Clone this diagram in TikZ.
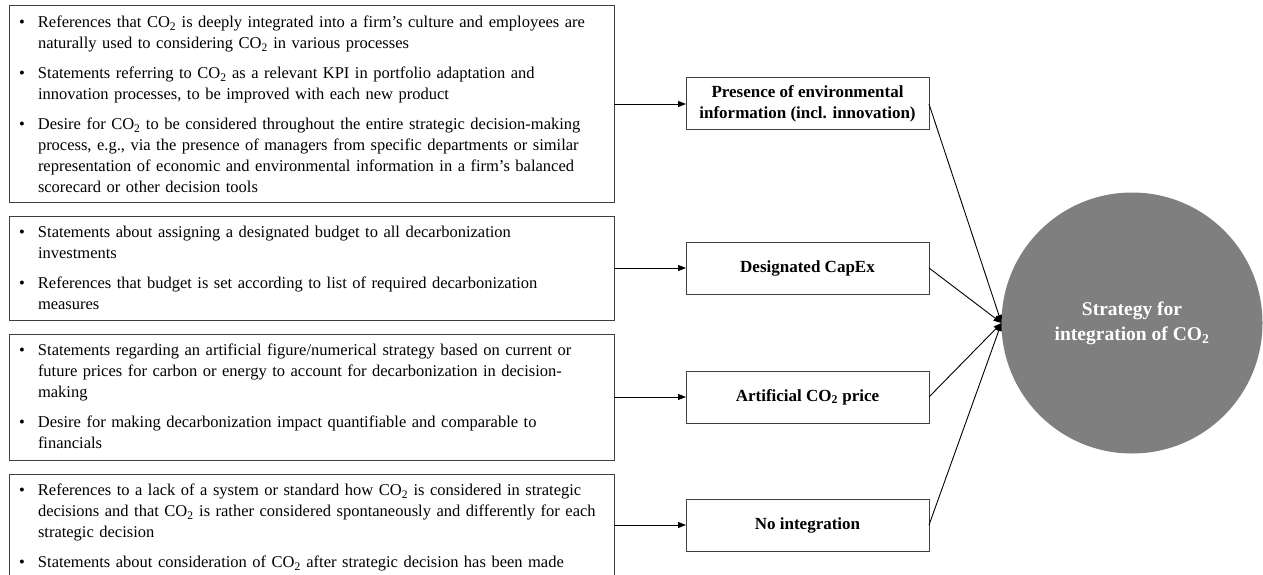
\documentclass[tikz,border=0pt]{standalone}
\usepackage{fontspec}
\setmainfont{Liberation Serif}
\usetikzlibrary{arrows.meta}

\definecolor{boxline}{HTML}{404040}
\definecolor{hubfill}{HTML}{7F7F7F}

\newcommand\cotwo{CO\textsubscript{2}}
% one bulleted entry: bullet, then its lines stacked with a hanging indent
\newcommand\bulletitem[1]{\noindent\makebox[19pt][l]{\textbullet}%
  \begin{tabular}[t]{@{}l@{}}#1\end{tabular}\par}
\newcommand\itemgap{\vspace{8pt}}
% keep baselines of stacked entries on a regular grid
\setlength\lineskip{0pt}
\setlength\lineskiplimit{-100pt}

\begin{document}
\begin{tikzpicture}[x=1pt,y=-1pt,
  every node/.style={inner sep=0pt, outer sep=0pt},
  listbox/.style={draw=boxline, line width=1pt, anchor=north west, minimum width=605pt},
  listtext/.style={anchor=base west, text width=600pt,
                   font=\fontsize{16.5}{21}\selectfont},
  labelbox/.style={draw=boxline, line width=1pt, minimum width=243pt, minimum height=52pt,
                   align=center, font=\fontsize{17}{21.5}\selectfont\bfseries},
  hub/.style={circle, fill=hubfill, minimum size=261pt, align=center, text=white,
              font=\fontsize{19.5}{25}\selectfont\bfseries},
  conn/.style={-{Triangle[length=8pt,width=6pt]}, line width=0.9pt, black}
]
\useasboundingbox (0,0) rectangle (1263,575);
\clip (0,0) rectangle (1263,575);

% evidence boxes on the left
\node[listbox, minimum height=196pt] (b1) at (9,6) {};
\node[listbox, minimum height=104pt] (b2) at (9,216) {};
\node[listbox, minimum height=126pt] (b3) at (9,334) {};
\node[listbox, minimum height=104pt] (b4) at (9,474) {};

\node[listtext] (t1) at ([shift={(10,21.5)}]b1.north west) {%
\bulletitem{References that \cotwo{} is deeply integrated into a firm’s culture and employees are\\naturally used to considering \cotwo{} in various processes}
\itemgap
\bulletitem{Statements referring to \cotwo{} as a relevant KPI in portfolio adaptation and\\innovation processes, to be improved with each new product}
\itemgap
\bulletitem{Desire for \cotwo{} to be considered throughout the entire strategic decision-making\\process, e.g., via the presence of managers from specific departments or similar\\representation of economic and environmental information in a firm’s balanced\\scorecard or other decision tools}};

\node[listtext] (t2) at ([shift={(10,21.5)}]b2.north west) {%
\bulletitem{Statements about assigning a designated budget to all decarbonization\\investments}
\itemgap
\bulletitem{References that budget is set according to list of required decarbonization\\measures}};

\node[listtext] (t3) at ([shift={(10,21.5)}]b3.north west) {%
\bulletitem{Statements regarding an artificial figure/numerical strategy based on current or\\future prices for carbon or energy to account for decarbonization in decision-\\making}
\itemgap
\bulletitem{Desire for making decarbonization impact quantifiable and comparable to\\financials}};

\node[listtext] (t4) at ([shift={(10,21.5)}]b4.north west) {%
\bulletitem{References to a lack of a system or standard how \cotwo{} is considered in strategic\\decisions and that \cotwo{} is rather considered spontaneously and differently for each\\strategic decision}
\itemgap
\bulletitem{Statements about consideration of \cotwo{} after strategic decision has been made}};

% strategy categories
\node[labelbox] (p1) at (807.5,104) {Presence of environmental\\information (incl. innovation)};
\node[labelbox] (p2) at (807.5,268) {Designated CapEx};
\node[labelbox] (p3) at (807.5,397) {Artificial \cotwo{} price};
\node[labelbox] (p4) at (807.5,525) {No integration};

% central concept
\node[hub] (s) at (1132,323) {Strategy for\\integration of \cotwo};

% connectors
\draw[conn] (b1.east |- p1.west) -- (p1.west);
\draw[conn] (b2.east |- p2.west) -- (p2.west);
\draw[conn] (b3.east |- p3.west) -- (p3.west);
\draw[conn] (b4.east |- p4.west) -- (p4.west);

\draw[conn] (p1.east) -- (s.west);
\draw[conn] (p2.east) -- (s.west);
\draw[conn] (p3.east) -- (s.west);
\draw[conn] (p4.east) -- (s.west);
\end{tikzpicture}
\end{document}
